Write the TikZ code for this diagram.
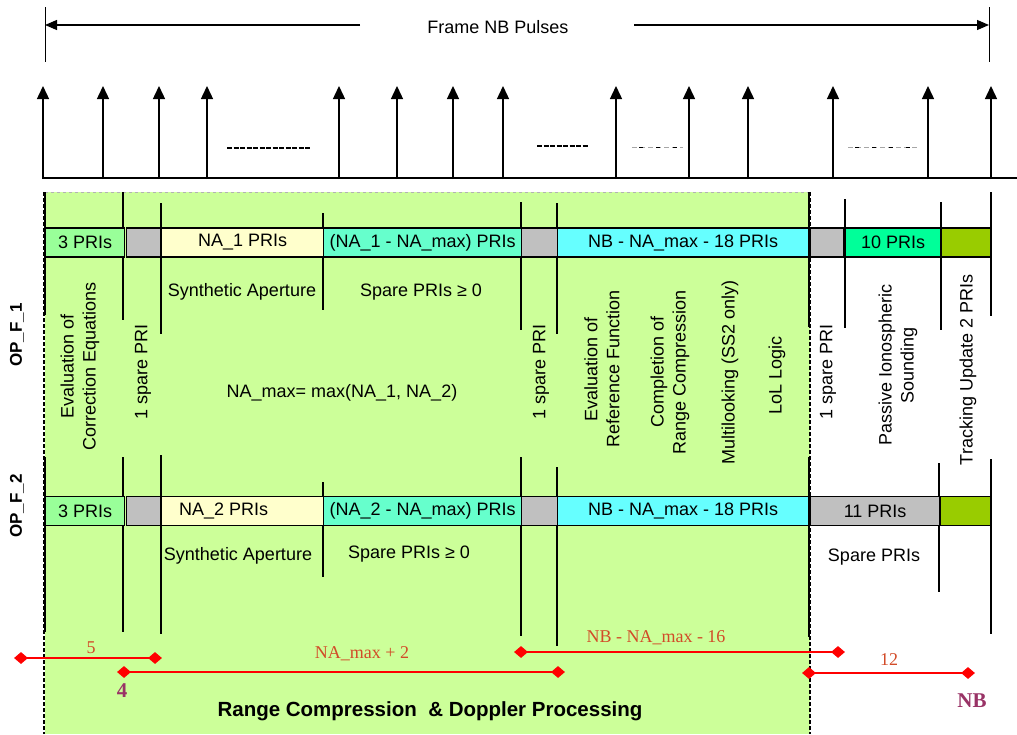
\documentclass[tikz,border=0pt]{standalone}
\usepackage{fontspec}
\setmainfont{Liberation Sans}
\newfontfamily\tms{Liberation Serif}
\usetikzlibrary{arrows.meta,shapes.geometric}
\definecolor{cregion}{HTML}{CCFF99}
\definecolor{cthree}{HTML}{99FF99}
\definecolor{cgray}{HTML}{C0C0C0}
\definecolor{cyel}{HTML}{FFFFCC}
\definecolor{caqua}{HTML}{66FFCC}
\definecolor{ccyan}{HTML}{66FFFF}
\definecolor{cspring}{HTML}{00FF99}
\definecolor{colive}{HTML}{99CC00}
\definecolor{cdimtxt}{RGB}{210,75,40}
\definecolor{cpurple}{HTML}{993366}
\begin{document}
\begin{tikzpicture}[x=1pt,y=-1pt,
  txt/.style={inner sep=0pt,font=\fontsize{18}{22}\selectfont},
  vtxt/.style={txt,rotate=90,align=center},
  seg/.style={draw,line width=1.2pt,inner sep=0pt,anchor=west,minimum height=29pt,font=\fontsize{18}{22}\selectfont},
  vline/.style={line width=1.2pt},
  pulse/.style={line width=1.4pt,-{Triangle[width=12pt,length=13pt]}},
  dmd/.style={diamond,fill=red,draw=none,inner sep=0pt,minimum width=14pt,minimum height=12pt},
  dimline/.style={red,line width=1.2pt},
  dimtxt/.style={inner sep=0pt,text=cdimtxt,font=\tms\fontsize{18}{22}\selectfont},
  purp/.style={inner sep=0pt,text=cpurple,font=\tms\bfseries\fontsize{21}{24}\selectfont},
  edge/.style={line width=2.6pt,dash pattern=on 4pt off 2pt}]
\useasboundingbox (0,0) rectangle (1017,734);
% frame arrow
\coordinate (fl) at (45,25);
\coordinate (fr) at (989,25);
\coordinate (flm) at (360,25);
\coordinate (frm) at (634,25);
\draw[line width=1pt] (45,7) -- (45,62);
\draw[line width=1pt] (989,7) -- (989,62);
\draw[line width=1.2pt,-{Triangle[width=10pt,length=12pt]}] (flm) -- (fl);
\draw[line width=1.2pt,-{Triangle[width=10pt,length=12pt]}] (frm) -- (fr);
\node[txt] (frame) at (498,27) {Frame NB Pulses};
% pulses
\draw[line width=1.4pt] (43,178) -- (1017,178);
\foreach \x in {43,103,159,207,339,397,453,503,616,689,748,833,928,991}
  \draw[pulse] (\x,179) -- (\x,86);
\draw[line width=2pt,dash pattern=on 5pt off 1.5pt] (227,148) -- (310,148);
\draw[line width=2pt,dash pattern=on 5pt off 1.5pt] (537,146) -- (588,146);
\draw[line width=1pt,gray!70,dash pattern=on 5pt off 3pt] (632,147) -- (683,147);
\draw[line width=1pt,dash pattern=on 4pt off 13pt,dash phase=-7pt] (632,147) -- (683,147);
\draw[line width=1pt,gray!70,dash pattern=on 5pt off 3pt] (848,147) -- (919,147);
\draw[line width=1pt,dash pattern=on 4pt off 13pt,dash phase=-7pt] (848,147) -- (919,147);
% green region
\fill[cregion] (45,192) rectangle (810,734);
\draw[gray!60,line width=0.6pt,dashed] (45,192) -- (810,192);
\draw[edge] (44,192) -- (44,734);
\draw[edge] (810,192) -- (810,734);
% vertical lines row 1
\draw[vline] (45,192) -- (45,315);
\draw[vline] (123,192) -- (123,320);
\draw[vline] (161,203) -- (161,334);
\draw[vline] (323,213) -- (323,310);
\draw[vline] (521,202) -- (521,330);
\draw[vline] (557,203) -- (557,334);
\draw[vline] (809,192) -- (809,327);
\draw[vline] (845,199) -- (845,328);
\draw[vline] (941,202) -- (941,330);
\draw[vline] (991,192) -- (991,316);
% vertical lines row 2
\draw[vline] (45,457) -- (45,632);
\draw[vline] (123,457) -- (123,632);
\draw[vline] (161,455) -- (161,634);
\draw[vline] (323,482) -- (323,577);
\draw[vline] (521,457) -- (521,636);
\draw[vline] (557,467) -- (557,646);
\draw[vline] (809,457) -- (809,637);
\draw[vline] (939,463) -- (939,592);
\draw[vline] (991,459) -- (991,634);
% row 1 bar
\node[seg,fill=cthree,minimum width=79pt] (a1) at (45,242.5) {3 PRIs};
\node[seg,fill=cgray,minimum width=34pt] (b1) at (125.5,242.5) {};
\node[seg,fill=cyel,minimum width=162pt] (c1) at (161,242.5) {NA\_1 PRIs};
\node[seg,fill=caqua,minimum width=198pt] (d1) at (323,242.5) {(NA\_1 - NA\_max) PRIs};
\node[seg,fill=cgray,minimum width=36pt] (e1) at (521,242.5) {};
\node[seg,fill=ccyan,minimum width=251pt] (f1) at (557,242.5) {NB - NA\_max - 18 PRIs};
\node[seg,fill=cgray,minimum width=33pt] (g1) at (810,242.5) {};
\node[seg,fill=cspring,minimum width=95pt] (h1) at (845,242.5) {10 PRIs};
\node[seg,fill=colive,minimum width=49pt] (i1) at (941,242.5) {};
% row 2 bar
\node[seg,fill=cthree,minimum width=79pt] (a2) at (45,511) {3 PRIs};
\node[seg,fill=cgray,minimum width=34pt] (b2) at (125.5,511) {};
\node[seg,fill=cyel,minimum width=162pt] (c2) at (161,511) {NA\_2 PRIs\rule{38pt}{0pt}};
\node[seg,fill=caqua,minimum width=198pt] (d2) at (323,511) {(NA\_2 - NA\_max) PRIs};
\node[seg,fill=cgray,minimum width=36pt] (e2) at (521,511) {};
\node[seg,fill=ccyan,minimum width=251pt] (f2) at (557,511) {NB - NA\_max - 18 PRIs};
\node[seg,fill=cgray,minimum width=129pt] (g2) at (810,511) {11 PRIs};
\node[seg,fill=colive,minimum width=50pt] (h2) at (940,511) {};
% horizontal labels
\node[txt] (sa1) at (242,292) {Synthetic Aperture};
\node[txt] (sp1) at (421,292) {Spare PRIs ≥ 0};
\node[txt] (namax) at (342,393) {NA\_max= max(NA\_1, NA\_2)};
\node[txt] (sa2) at (238,556) {Synthetic Aperture};
\node[txt] (sp2) at (409,554) {Spare PRIs ≥ 0};
\node[txt] (sp3) at (874,557) {Spare PRIs};
% vertical labels
\node[vtxt] (ec) at (80,366) {Evaluation of\\Correction Equations};
\node[vtxt] (s1) at (143,372) {1 spare PRI};
\node[vtxt] (s2) at (541,372) {1 spare PRI};
\node[vtxt] (er) at (602,369) {Evaluation of\\Reference Function};
\node[vtxt] (cr) at (670,372) {Completion of\\Range Compression};
\node[vtxt] (ml) at (730,372) {Multilooking (SS2 only)};
\node[vtxt] (lol) at (777,375) {LoL Logic};
\node[vtxt] (s3) at (828,372) {1 spare PRI};
\node[vtxt] (pis) at (898,365) {Passive Ionospheric\\Sounding};
\node[vtxt] (tu) at (968,370) {Tracking Update 2 PRIs};
\node[inner sep=0pt,rotate=90,font=\bfseries\fontsize{17}{20}\selectfont] (op1) at (17,335) {OP\_F\_1};
\node[inner sep=0pt,rotate=90,font=\bfseries\fontsize{17}{20}\selectfont] (op2) at (17,506) {OP\_F\_2};
% dimension lines
\node[dmd] (d5a) at (21,658) {};
\node[dmd] (d5b) at (155,658) {};
\draw[dimline] (d5a.center) -- (d5b.center);
\node[dimtxt] (t5) at (91,648) {5};
\node[dmd] (dna) at (124,672) {};
\node[dmd] (dnb) at (558,672) {};
\draw[dimline] (dna.center) -- (dnb.center);
\node[dimtxt] (tna) at (362,654) {NA\_max + 2};
\node[purp] (four) at (122,691) {4};
\node[dmd] (dma) at (521,652) {};
\node[dmd] (dmb) at (838,652) {};
\draw[dimline] (dma.center) -- (dmb.center);
\node[dimtxt] (tnb) at (656,638) {NB - NA\_max - 16};
\node[dmd] (d12a) at (809,673) {};
\node[dmd] (d12b) at (968,673) {};
\draw[dimline] (d12a.center) -- (d12b.center);
\node[dimtxt] (t12) at (889,660) {12};
\node[purp] (nb) at (972,701) {NB};
\node[inner sep=0pt,font=\bfseries\fontsize{20.5}{24}\selectfont] (rc) at (430,711) {Range Compression \ \& Doppler Processing};
\end{tikzpicture}
\end{document}
